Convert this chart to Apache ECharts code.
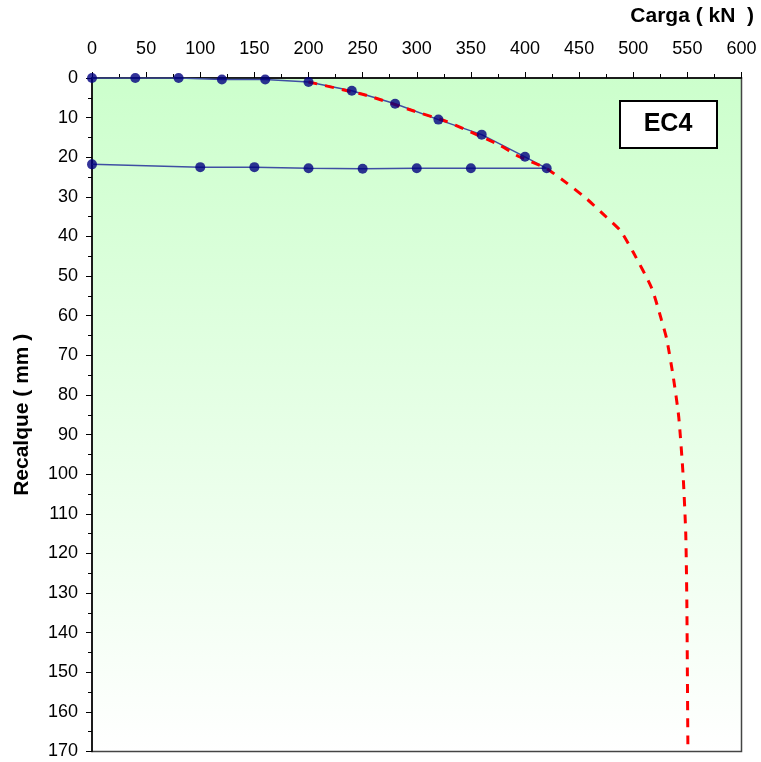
<!DOCTYPE html>
<html>
<head>
<meta charset="utf-8">
<script src="https://cdn.jsdelivr.net/npm/echarts@6/dist/echarts.min.js"></script>
<style>
  html, body { margin: 0; padding: 0; background: #fff; }
  #chart { width: 761px; height: 762px; }
</style>
</head>
<body>
<div id="chart"></div>
<script>
// Load test EC4: measured load (kN) vs settlement (mm)
var loadKN       = [0, 40, 80, 120, 160, 200, 240, 280, 320, 360, 400, 420, 350, 300, 250, 200, 150, 100, 0];
var settlementMM = [0, 0, 0, 0.4, 0.4, 1.0, 3.2, 6.5, 10.5, 14.3, 19.9, 22.8, 22.8, 22.8, 22.9, 22.8, 22.5, 22.5, 21.8];

// Extrapolated load-settlement curve (dashed)
var fitLoadKN       = [200, 254, 298, 328, 343, 377, 392, 420, 438, 457, 472, 488, 500, 517, 526, 531, 537, 542, 546, 548.5, 549.5, 550, 550.5];
var fitSettlementMM = [1.0, 4.4, 8.4, 11.0, 12.8, 17.0, 19.5, 22.9, 26.4, 30.5, 34.3, 38.5, 44, 53, 61, 66, 75.5, 85.5, 100, 115, 132, 150, 170];

var xMin = 0, xMax = 600, xStep = 50;
var yMin = 0, yMax = 170, yStep = 10;

var xTitle = 'Carga ( kN  )';
var yTitle = 'Recalque ( mm )';
var tag = 'EC4';

function pairs(xs, ys) {
  return xs.map(function (x, i) { return [x, ys[i]]; });
}

var FONT = '"Liberation Sans", Arial, sans-serif';
var chart = echarts.init(document.getElementById('chart'), null, { renderer: 'canvas' });

chart.setOption({
  animation: false,
  backgroundColor: '#ffffff',
  grid: {
    left: 92, top: 78, right: 19.5, bottom: 10.5,
    containLabel: false,
    outerBoundsMode: 'none',
    show: true,
    borderColor: '#444',
    borderWidth: 1.5,
    backgroundColor: new echarts.graphic.LinearGradient(0, 0, 0, 1, [
      { offset: 0, color: '#ccffcc' },
      { offset: 1, color: '#ffffff' }
    ])
  },
  xAxis: {
    type: 'value',
    position: 'top',
    min: xMin, max: xMax, interval: xStep,
    axisLine: { show: true, onZero: false, lineStyle: { color: '#000', width: 1.5 } },
    axisTick: { show: true, length: 6, lineStyle: { color: '#000' } },
    minorTick: { show: true, splitNumber: 2, length: 4, lineStyle: { color: '#000' } },
    splitLine: { show: false },
    axisLabel: { color: '#000', fontSize: 18, fontFamily: FONT, margin: 20 }
  },
  yAxis: {
    type: 'value',
    inverse: true,
    min: yMin, max: yMax, interval: yStep,
    name: yTitle,
    nameLocation: 'middle',
    nameRotate: 90,
    nameGap: 59,
    nameTextStyle: { color: '#000', fontSize: 21, fontWeight: 'bold', fontFamily: FONT },
    axisLine: { show: true, onZero: false, lineStyle: { color: '#000', width: 1.5 } },
    axisTick: { show: true, length: 6, lineStyle: { color: '#000' } },
    minorTick: { show: true, splitNumber: 2, length: 4, lineStyle: { color: '#000' } },
    splitLine: { show: false },
    axisLabel: { color: '#000', fontSize: 18, fontFamily: FONT, margin: 14 }
  },
  graphic: [
    {
      type: 'text',
      right: 7, top: 6,
      style: { text: xTitle, font: 'bold 21px ' + FONT, fill: '#000' }
    },
    {
      type: 'rect',
      left: 619, top: 100,
      shape: { width: 97, height: 47 },
      style: { fill: '#fff', stroke: '#000', lineWidth: 2 },
      z: 10
    },
    {
      type: 'text',
      x: 668, y: 124,
      style: { text: tag, font: 'bold 25px ' + FONT, fill: '#000', align: 'center', verticalAlign: 'middle' },
      z: 11
    }
  ],
  series: [
    {
      type: 'line',
      data: pairs(loadKN, settlementMM),
      showSymbol: false,
      lineStyle: { color: '#3f4fa3', width: 1.5 },
      z: 2
    },
    {
      type: 'line',
      data: pairs(fitLoadKN, fitSettlementMM),
      showSymbol: false,
      smooth: 0.2,
      lineStyle: { color: '#ff0000', width: 3, type: [9, 8] },
      z: 3
    },
    {
      type: 'scatter',
      data: pairs(loadKN, settlementMM),
      symbol: 'circle',
      symbolSize: 10,
      itemStyle: { color: '#000080' },
      z: 4
    }
  ]
});
</script>
</body>
</html>
